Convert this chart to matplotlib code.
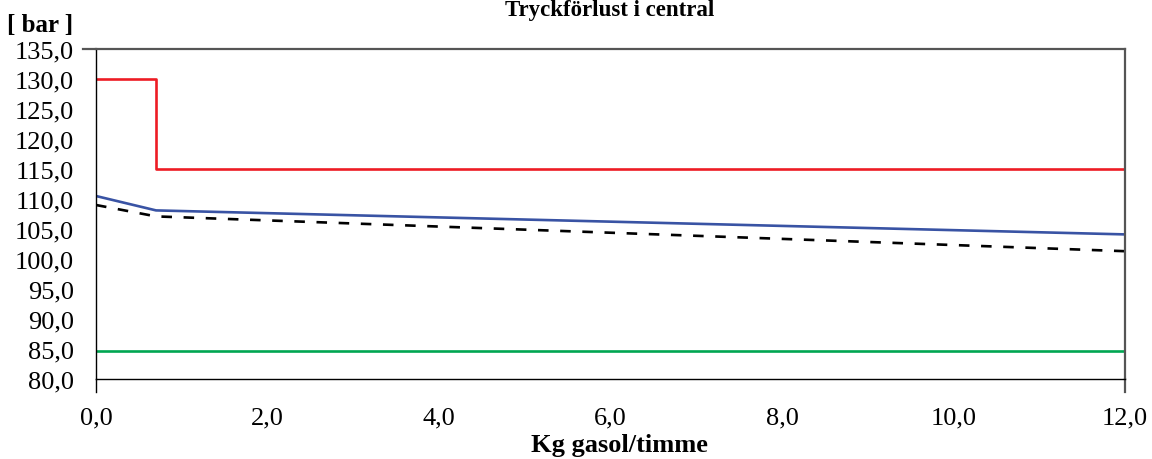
import matplotlib
matplotlib.use("Agg")
import matplotlib.pyplot as plt
from matplotlib.ticker import FuncFormatter

# data
flow = [0.0, 0.7, 12.0]
max_pressure = [130.0, 115.0, 115.0]
inlet_pressure = [110.5, 108.1, 104.1]
outlet_pressure = [109.0, 107.1, 101.3]
green_x = [0.0, 12.0]
min_pressure = [84.7, 84.7]

x_ticks = [0, 2, 4, 6, 8, 10, 12]
y_ticks = [80, 85, 90, 95, 100, 105, 110, 115, 120, 125, 130, 135]

plt.rcParams['font.family'] = ['Liberation Serif', 'DejaVu Serif']

fig = plt.figure(figsize=(11.52, 4.6), dpi=100)
ax = fig.add_axes([96 / 1152, 80 / 460, 1029 / 1152, 330 / 460])

ax.step(flow, max_pressure, where='post', color='#ed1c24', lw=1.9)
ax.plot(flow, inlet_pressure, color='#3953a4', lw=1.9)
ax.plot(flow, outlet_pressure, color='black', lw=1.9, dashes=(4.0, 4.4))
ax.plot(green_x, min_pressure, color='#00a651', lw=1.9)

ax.set_xlim(0, 12)
ax.set_ylim(80, 135)
ax.set_xticks(x_ticks)
ax.set_yticks(y_ticks)
comma = FuncFormatter(lambda v, p: f"{v:.1f}".replace('.', ','))
ax.xaxis.set_major_formatter(comma)
ax.yaxis.set_major_formatter(comma)
ax.tick_params(length=0, labelsize=19, colors='black')
ax.tick_params(axis='x', pad=20)
ax.tick_params(axis='y', pad=16)

for side in ['left', 'bottom']:
    ax.spines[side].set_color('black')
    ax.spines[side].set_linewidth(1.0)
for side in ['top', 'right']:
    ax.spines[side].set_color('#555555')
    ax.spines[side].set_linewidth(1.6)

# Excel-style spine overhangs
ax.plot([-13 / 1029, 0], [1, 1], transform=ax.transAxes, color='#555555',
        lw=1.6, clip_on=False)
for xa in [0, 1]:
    ax.plot([xa, xa], [0, -13 / 330], transform=ax.transAxes,
            color='black' if xa == 0 else '#555555', lw=1.0 if xa == 0 else 1.6,
            clip_on=False)

fig.text(610 / 1152, 1 - 16 / 460, 'Tryckförlust i central', ha='center',
         va='baseline', fontsize=16.5, fontweight='bold')
fig.text(73 / 1152, 1 - 32 / 460, '[ bar ]', ha='right', va='baseline',
         fontsize=18, fontweight='bold')
fig.text(619 / 1152, 1 - 452 / 460, 'Kg gasol/timme', ha='center',
         va='baseline', fontsize=19, fontweight='bold')

fig.savefig('out.png', dpi=100)
